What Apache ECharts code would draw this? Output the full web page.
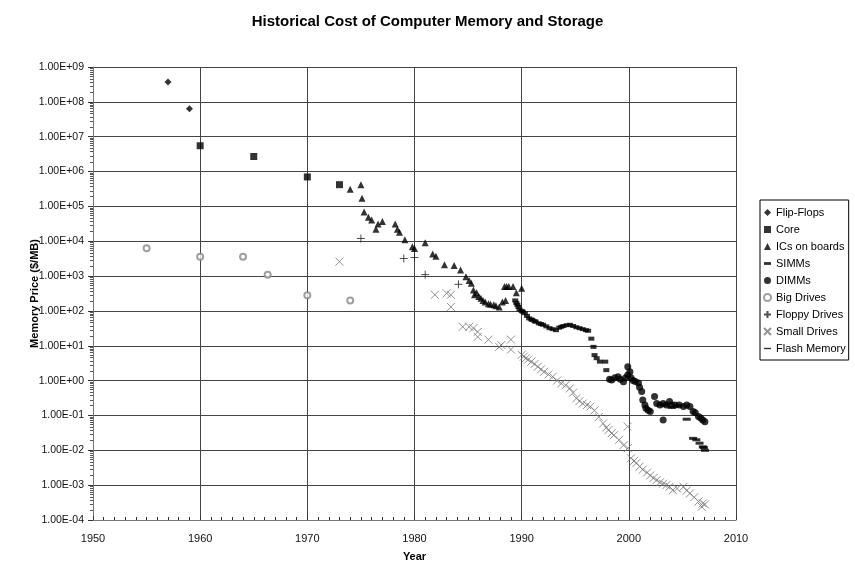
<!DOCTYPE html>
<html>
<head>
<meta charset="utf-8">
<title>Historical Cost of Computer Memory and Storage</title>
<script src="https://cdn.jsdelivr.net/npm/echarts@6/dist/echarts.min.js"></script>
<style>
  html, body { margin: 0; padding: 0; background: #fff; }
  #main { width: 855px; height: 564px; }
</style>
</head>
<body>
<div id="main"></div>
<script>
// [year, $/MB]
var flipFlops = [[1957, 3.7e8], [1959, 6.3e7]];
var core = [[1960, 5.5e6], [1965, 2.7e6], [1970, 7e5], [1973, 4.2e5]];
var icsOnBoards = [
  [1974, 3.1e5], [1975, 4.2e5], [1975.1, 1.7e5], [1975.3, 6.9e4], [1975.7, 4.9e4],
  [1976, 4.1e4], [1976.4, 2.2e4], [1976.6, 3.1e4], [1977, 3.7e4], [1978.2, 3.1e4],
  [1978.4, 2.2e4], [1978.6, 1.8e4], [1979.1, 1.1e4], [1979.8, 7e3], [1980, 6.2e3],
  [1981, 9e3], [1981.7, 4.3e3], [1982, 3.7e3], [1982.8, 2.1e3], [1983.7, 2e3],
  [1984.3, 1.5e3], [1984.8, 9.5e2], [1985.1, 7.5e2], [1985.3, 6.2e2], [1985.5, 4e2],
  [1985.6, 2.9e2], [1985.8, 3.3e2], [1986, 2.6e2], [1986.2, 2.3e2], [1986.4, 2e2],
  [1986.6, 1.8e2], [1986.9, 1.6e2], [1987.1, 1.55e2], [1987.4, 1.5e2], [1987.6, 1.4e2],
  [1987.9, 1.3e2], [1988.2, 1.8e2], [1988.5, 2e2], [1988.4, 5e2], [1988.6, 5e2],
  [1988.8, 5e2], [1989.2, 5e2], [1989.5, 3.3e2], [1990, 4.5e2]
];
var simms = [
  [1989.4, 2e2], [1989.5, 1.7e2], [1989.6, 1.5e2], [1989.7, 1.3e2], [1989.8, 1.1e2],
  [1990, 1e2], [1990.1, 95], [1990.3, 86], [1990.5, 72], [1990.7, 61], [1990.9, 57],
  [1991, 55], [1991.2, 51], [1991.3, 49], [1991.6, 44], [1991.8, 42], [1992, 40],
  [1992.3, 36], [1992.6, 32], [1992.9, 30], [1993.2, 28], [1993.5, 33], [1993.7, 35],
  [1993.9, 37], [1994.2, 39], [1994.5, 40], [1994.8, 37], [1995.1, 34], [1995.4, 32],
  [1995.7, 30], [1996, 28], [1996.2, 27], [1996.5, 16], [1996.7, 9.3], [1996.8, 5.4],
  [1997, 4.4], [1997.3, 3.5], [1997.8, 3.5], [1997.9, 2.0]
];
var dimms = [
  [1998.2, 1.1], [1998.4, 1.05], [1998.7, 1.2], [1999, 1.3], [1999.2, 1.1],
  [1999.5, 0.93], [1999.7, 1.2], [1999.9, 2.5], [1999.9, 1.45], [2000.1, 1.8],
  [2000.2, 1.2], [2000.4, 1.0], [2000.6, 0.95], [2000.9, 0.85], [2001, 0.65],
  [2001.2, 0.49], [2001.3, 0.28], [2001.5, 0.2], [2001.6, 0.16], [2001.8, 0.14],
  [2002, 0.13], [2002.4, 0.35], [2002.6, 0.22], [2002.9, 0.2], [2003.2, 0.22],
  [2003.2, 0.074], [2003.5, 0.2], [2003.8, 0.25], [2004, 0.2], [2004.3, 0.2],
  [2004.7, 0.2], [2005.1, 0.18], [2005.4, 0.2], [2005.7, 0.18], [2006, 0.13],
  [2006.2, 0.12], [2006.5, 0.093], [2006.7, 0.085], [2006.9, 0.074], [2007.1, 0.066]
];
var bigDrives = [[1955, 6.3e3], [1960, 3.6e3], [1964, 3.6e3], [1966.3, 1.1e3], [1970, 2.8e2], [1974, 2e2]];
var floppyDrives = [[1975, 1.2e4], [1979, 3.2e3], [1980, 3.4e3], [1981, 1.1e3], [1984.1, 5.8e2]];
var smallDrives = [
  [1973, 2.6e3], [1981.9, 2.9e2], [1983, 3.2e2], [1983.4, 2.9e2], [1983.4, 1.3e2],
  [1984.5, 35], [1985.1, 35], [1985.5, 32], [1985.9, 25], [1985.9, 18], [1986.9, 15],
  [1987.9, 9.3], [1988.1, 10.5], [1989, 15], [1989, 7.8], [1990, 5.5], [1990.2, 4.9],
  [1990.4, 4.4], [1990.6, 4.0], [1990.9, 3.5], [1991.2, 3.0], [1991.5, 2.5], [1991.8, 2.1],
  [1992.1, 1.8], [1992.5, 1.5], [1992.9, 1.3], [1993.3, 1.0], [1993.7, 0.83], [1994.1, 0.74],
  [1994.5, 0.6], [1994.8, 0.45], [1995.1, 0.31], [1995.4, 0.26], [1995.7, 0.22],
  [1996.1, 0.2], [1996.4, 0.18], [1996.8, 0.14], [1997.2, 0.09], [1997.6, 0.059],
  [1997.9, 0.045], [1998.1, 0.038], [1998.4, 0.031], [1998.6, 0.027], [1999.1, 0.02],
  [1999.5, 0.014], [1999.9, 0.048], [1999.9, 0.0115], [2000.2, 0.0059], [2000.5, 0.005],
  [2000.7, 0.0043], [2001, 0.0034], [2001.3, 0.0028], [2001.7, 0.0023], [2002, 0.0019],
  [2002.3, 0.0016], [2002.6, 0.0014], [2002.9, 0.0012], [2003.2, 0.0011], [2003.5, 0.001],
  [2003.8, 0.0009], [2004.1, 0.00072], [2004.5, 0.0008], [2005.1, 0.0009], [2005.4, 0.0007],
  [2005.7, 0.00058], [2006.1, 0.00045], [2006.5, 0.00034], [2006.8, 0.00024], [2006.9, 0.0003],
  [2007.1, 0.00028]
];
var flashMemory = [
  [2003.3, 0.2], [2004, 0.17], [2004.6, 0.19], [2005.4, 0.078], [2006, 0.022],
  [2006.3, 0.02], [2006.6, 0.016], [2006.9, 0.0126], [2007.1, 0.01], [2007, 0.012]
];

var plusPath = 'path://M5,0L5,10M0,5L10,5';
var crossPath = 'path://M0,0L10,10M10,0L0,10';
var shortDash = 'path://M0,0L5,0L5,2L0,2Z';
var longDash = 'path://M0,0L10,0L10,2L0,2Z';
var labelFont = "'Liberation Sans', Arial, sans-serif";
var boldFont = "'Liberation Sans', Arial, sans-serif";

function sciLabel(v) {
  var e = Math.round(Math.log10(v));
  return '1.00E' + (e < 0 ? '-' : '+') + String(Math.abs(e)).padStart(2, '0');
}

var chart = echarts.init(document.getElementById('main'), null, { renderer: 'canvas' });

var option = {
  backgroundColor: '#fff',
  animation: false,
  title: {
    text: 'Historical Cost of Computer Memory and Storage',
    left: 'center',
    top: 9,
    textStyle: { fontFamily: boldFont, fontSize: 15, fontWeight: 'bold', color: '#000' }
  },
  legend: {
    orient: 'vertical',
    left: 760,
    top: 200,
    padding: [7, 3, 6, 3],
    itemGap: 6,
    itemWidth: 7,
    itemHeight: 7,
    borderColor: '#000',
    borderWidth: 1,
    data: [
      { name: 'Flip-Flops' },
      { name: 'Core' },
      { name: 'ICs on boards' },
      { name: 'SIMMs', icon: shortDash },
      { name: 'DIMMs' },
      { name: 'Big Drives' },
      { name: 'Floppy Drives' },
      { name: 'Small Drives' },
      { name: 'Flash Memory', icon: longDash }
    ],
    textStyle: { fontFamily: labelFont, fontSize: 11, color: '#000' }
  },
  grid: { left: 93, right: 119, top: 67, bottom: 44, containLabel: false, outerBoundsMode: 'none' },
  xAxis: {
    type: 'value',
    min: 1950,
    max: 2010,
    interval: 10,
    name: 'Year',
    nameLocation: 'middle',
    nameGap: 31,
    nameMoveOverlap: false,
    nameTextStyle: { fontFamily: boldFont, fontSize: 11, fontWeight: 'bold', color: '#000' },
    axisLine: { show: true, lineStyle: { color: '#777', width: 1 } },
    axisTick: { show: true, inside: true, length: 4, lineStyle: { color: '#333' } },
    minorTick: { show: true, splitNumber: 10, length: 3, lineStyle: { color: '#333' } },
    axisLabel: { fontFamily: labelFont, fontSize: 11, color: '#111', margin: 13,
      formatter: function (v) { return String(v); } },
    splitLine: { show: true, lineStyle: { color: '#444', width: 1 } }
  },
  yAxis: {
    type: 'log',
    logBase: 10,
    min: 1e-4,
    max: 1e9,
    interval: 1,
    name: 'Memory Price ($/MB)',
    nameLocation: 'middle',
    nameGap: 53,
    nameMoveOverlap: false,
    nameTextStyle: { fontFamily: boldFont, fontSize: 11, fontWeight: 'bold', color: '#000' },
    axisLine: { show: true, lineStyle: { color: '#777', width: 1 } },
    axisTick: { show: true, inside: false, length: 5, lineStyle: { color: '#333' } },
    minorTick: { show: true, splitNumber: 10, length: 3, lineStyle: { color: '#555' } },
    axisLabel: { fontFamily: labelFont, fontSize: 10.5, color: '#111', margin: 9, formatter: sciLabel },
    splitLine: { show: true, lineStyle: { color: '#444', width: 1 } }
  },
  series: [
    { name: 'Flip-Flops', type: 'scatter', data: flipFlops, symbol: 'diamond', symbolSize: 7,
      itemStyle: { color: '#000' } },
    { name: 'Core', type: 'scatter', data: core, symbol: 'rect', symbolSize: 7,
      itemStyle: { color: '#000' } },
    { name: 'ICs on boards', type: 'scatter', data: icsOnBoards, symbol: 'triangle', symbolSize: 7,
      itemStyle: { color: '#000' } },
    { name: 'SIMMs', type: 'scatter', data: simms, symbol: 'rect', symbolSize: [6, 4],
      itemStyle: { color: '#000' } },
    { name: 'DIMMs', type: 'scatter', data: dimms, symbol: 'circle', symbolSize: 7,
      itemStyle: { color: '#000' } },
    { name: 'Big Drives', type: 'scatter', data: bigDrives, symbol: 'emptyCircle', symbolSize: 6,
      itemStyle: { color: '#888', borderColor: '#888', borderWidth: 1 } },
    { name: 'Floppy Drives', type: 'scatter', data: floppyDrives, symbol: plusPath, symbolSize: 8,
      itemStyle: { color: 'rgba(0,0,0,0)', borderColor: '#222', borderWidth: 1 } },
    { name: 'Small Drives', type: 'scatter', data: smallDrives, symbol: crossPath, symbolSize: 8,
      itemStyle: { color: 'rgba(0,0,0,0)', borderColor: '#777', borderWidth: 1 } },
    { name: 'Flash Memory', type: 'scatter', data: flashMemory, symbol: 'rect', symbolSize: [8, 3],
      itemStyle: { color: '#000' } }
  ]
};

chart.setOption(option);
</script>
</body>
</html>
